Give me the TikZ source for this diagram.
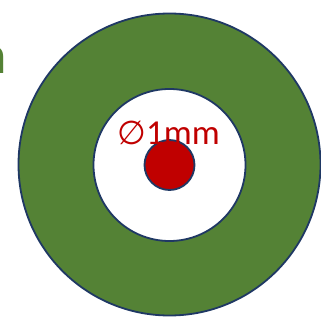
\documentclass[tikz,border=0pt]{standalone}
\usepackage{fontspec}
\setmainfont{Carlito}
\newfontfamily\symfont{DejaVu Sans}
\usepackage{xcolor}
\usepackage{tikz}
\definecolor{LeafGreen}{RGB}{84,130,53}
\definecolor{RimNavy}{RGB}{31,56,100}
\definecolor{CoreRed}{RGB}{192,0,0}
\begin{document}
\begin{tikzpicture}[
  x=1pt,y=-1pt,
  disc/.style={circle,draw=RimNavy,line width=1.8pt,inner sep=0pt},
  outerdisc/.style={disc,fill=LeafGreen,minimum size=302pt},
  innerdisc/.style={disc,fill=white,minimum size=152pt},
  core/.style={disc,fill=CoreRed,minimum size=50pt},
  size label/.style={text=CoreRed,font=\fontsize{35}{40}\selectfont,inner sep=0pt}]
\path[use as bounding box] (0,0) rectangle (321,324);
\node[anchor=base east,inner sep=0pt,text=LeafGreen,font=\fontsize{54}{60}\selectfont\bfseries] (cut) at (6.5,73) {n};
\node[outerdisc] (outer) at (169.5,164.5) {};
\node[innerdisc] (inner) at (169.5,165) {};
\node[core] (dot) at (169.5,165) {};
\node[size label,anchor=base] (diam) at (168.5,144) {{\symfont\fontsize{33}{36}\selectfont ∅}1mm};
\end{tikzpicture}
\end{document}
